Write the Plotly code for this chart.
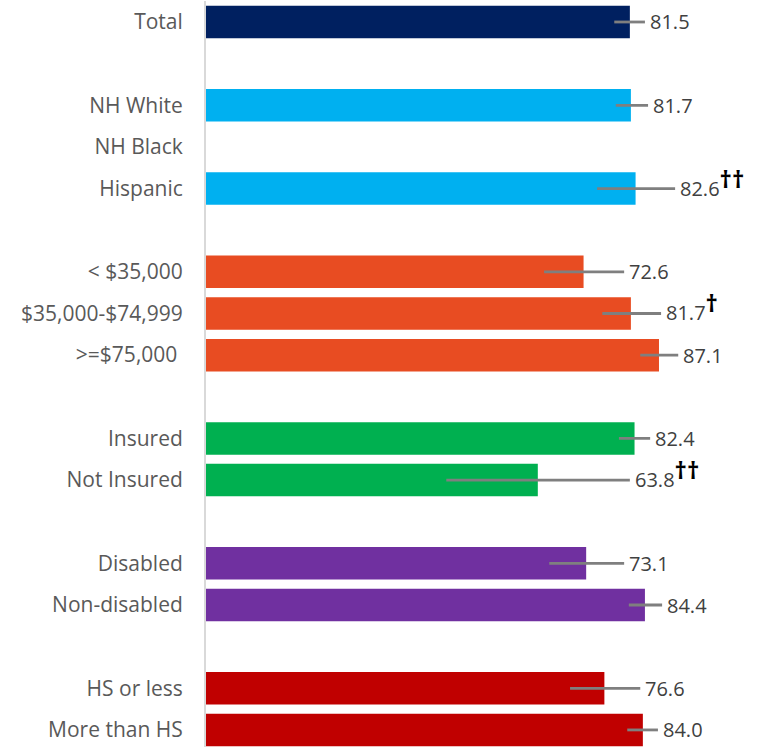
"""Horizontal bar chart with confidence intervals by group."""

import plotly.graph_objects as go

# rows from top to bottom; empty strings are spacer rows
labels = [
    "Total", "",
    "NH White", "NH Black", "Hispanic", "",
    "< $35,000", "$35,000-$74,999", ">=$75,000 ", "",
    "Insured", "Not Insured", "",
    "Disabled", "Non-disabled", "",
    "HS or less", "More than HS",
]
groups = [
    "total", None,
    "race", "race", "race", None,
    "income", "income", "income", None,
    "insurance", "insurance", None,
    "disability", "disability", None,
    "education", "education",
]
values = [
    81.5, None,
    81.7, None, 82.6, None,
    72.6, 81.7, 87.1, None,
    82.4, 63.8, None,
    73.1, 84.4, None,
    76.6, 84.0,
]
ci_low = [
    78.5, None,
    78.8, None, 75.2, None,
    65.0, 76.2, 83.5, None,
    79.4, 46.2, None,
    66.0, 81.3, None,
    70.0, 81.0,
]
ci_high = [
    84.4, None,
    85.0, None, 90.2, None,
    80.4, 87.5, 90.8, None,
    85.4, 81.5, None,
    80.4, 87.7, None,
    83.5, 86.9,
]
flags = [
    "", "",
    "", "", "††", "",
    "", "†", "", "",
    "", "††", "",
    "", "", "",
    "", "",
]

_GROUP_COLORS = {
    "total": "#002060",
    "race": "#00B0F0",
    "income": "#E84C22",
    "insurance": "#00B050",
    "disability": "#7030A0",
    "education": "#C00000",
}

FONT = "Open Sans"

rows = list(range(len(labels)))
colors = [_GROUP_COLORS.get(g, "white") for g in groups]
err_plus = [None if v is None else hi - v for v, hi in zip(values, ci_high)]
err_minus = [None if v is None else v - lo for v, lo in zip(values, ci_low)]

fig = go.Figure(
    go.Bar(
        x=values,
        y=rows,
        orientation="h",
        width=0.78,
        marker=dict(color=colors, line=dict(width=0)),
        error_x=dict(
            type="data",
            symmetric=False,
            array=err_plus,
            arrayminus=err_minus,
            color="#7F7F7F",
            thickness=2.8,
            width=0,
        ),
        hoverinfo="skip",
    )
)

for r, v, hi, f in zip(rows, values, ci_high, flags):
    if v is None:
        continue
    text = f"{v:.1f}"
    shift = 0
    if f:
        text += (
            "<sup><span style='color:black;font-size:24px;font-weight:bold'>"
            f"{f}</span></sup>"
        )
        shift = 7
    fig.add_annotation(
        x=hi,
        y=r,
        text=text,
        showarrow=False,
        xanchor="left",
        xshift=3,
        yshift=shift,
        font=dict(family=FONT, size=20, color="#404040"),
    )

fig.update_layout(
    width=763,
    height=747,
    plot_bgcolor="white",
    paper_bgcolor="white",
    showlegend=False,
    margin=dict(l=206, r=0, t=1, b=0),
    xaxis=dict(
        range=[0, 107.1],
        showgrid=False,
        zeroline=False,
        showticklabels=False,
        showline=False,
        fixedrange=True,
    ),
    yaxis=dict(
        range=[17.41, -0.504],
        tickvals=rows,
        ticktext=labels,
        showgrid=False,
        zeroline=False,
        showline=True,
        linecolor="#D9D9D9",
        linewidth=2,
        ticks="",
        ticklabelstandoff=17,
        automargin=False,
        tickfont=dict(family=FONT, size=21, color="#595959"),
        fixedrange=True,
    ),
)

fig.write_html(
    "out.html",
    config={"displayModeBar": False},
    post_script="document.body.style.margin='0';document.body.style.overflow='hidden';",
)
